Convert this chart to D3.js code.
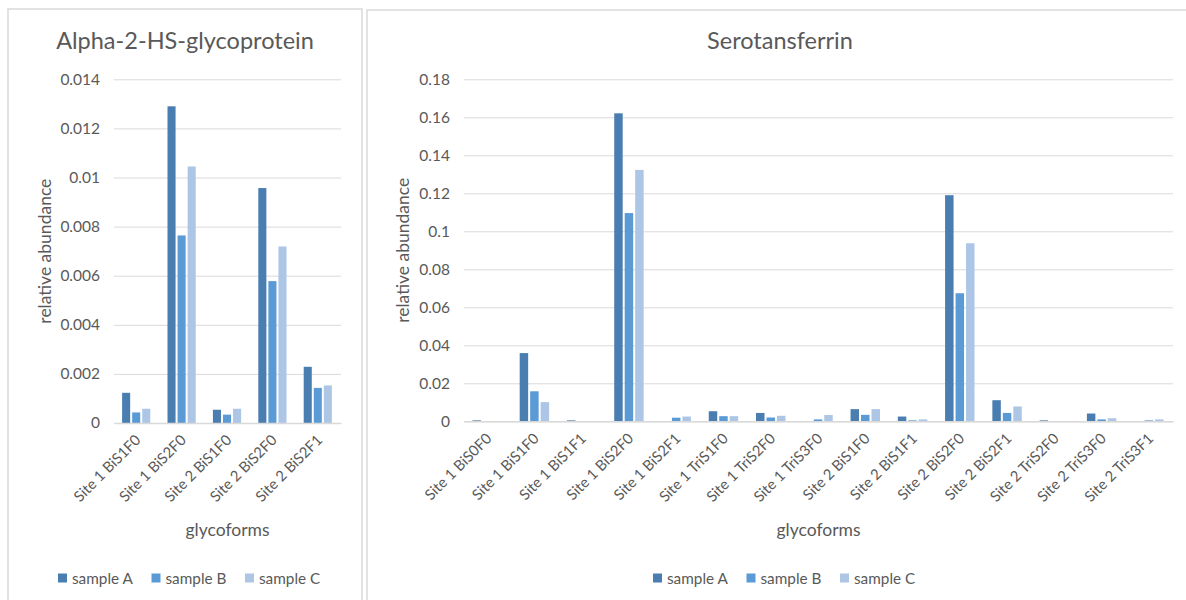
<!DOCTYPE html>
<html><head><meta charset="utf-8">
<script src="https://cdn.jsdelivr.net/npm/d3@7"></script>
<style>
html,body{margin:0;padding:0;background:#fff;}
svg{display:block;font-family:Lato,"Open Sans",sans-serif;}
</style></head>
<body>
<svg id="chart" width="1186" height="600"></svg>
<script>
const seriesNames = ["sample A", "sample B", "sample C"];
const seriesColors = ["#4a7eb1", "#5b9bd5", "#adc6e6"];

const ahsgCategories = ["Site 1 BiS1F0", "Site 1 BiS2F0", "Site 2 BiS1F0", "Site 2 BiS2F0", "Site 2 BiS2F1"];
const ahsgA = [0.00123, 0.0129, 0.00054, 0.00957, 0.00229];
const ahsgB = [0.00043, 0.00764, 0.00034, 0.00578, 0.00143];
const ahsgC = [0.00058, 0.01045, 0.00058, 0.00719, 0.00153];
const ahsgTicks = [0, 0.002, 0.004, 0.006, 0.008, 0.01, 0.012, 0.014];
const ahsgTickLabels = ["0", "0.002", "0.004", "0.006", "0.008", "0.01", "0.012", "0.014"];

const trfCategories = ["Site 1 BiS0F0", "Site 1 BiS1F0", "Site 1 BiS1F1", "Site 1 BiS2F0", "Site 1 BiS2F1",
  "Site 1 TriS1F0", "Site 1 TriS2F0", "Site 1 TriS3F0", "Site 2 BiS1F0", "Site 2 BiS1F1",
  "Site 2 BiS2F0", "Site 2 BiS2F1", "Site 2 TriS2F0", "Site 2 TriS3F0", "Site 2 TriS3F1"];
const trfA = [0.0005, 0.0359, 0.0005, 0.1621, 0, 0.0053, 0.0044, 0, 0.0064, 0.0025, 0.119, 0.0111, 0.0005, 0.0041, 0];
const trfB = [0, 0.0158, 0, 0.1096, 0.0019, 0.0027, 0.002, 0.001, 0.0034, 0.0005, 0.0674, 0.0044, 0, 0.001, 0.0005];
const trfC = [0, 0.0101, 0, 0.1323, 0.0025, 0.0027, 0.0029, 0.0033, 0.0064, 0.001, 0.0937, 0.0078, 0, 0.0016, 0.001];
const trfTicks = [0, 0.02, 0.04, 0.06, 0.08, 0.1, 0.12, 0.14, 0.16, 0.18];
const trfTickLabels = ["0", "0.02", "0.04", "0.06", "0.08", "0.1", "0.12", "0.14", "0.16", "0.18"];

const svg = d3.select("#chart");
const textColor = "#595959";
const gridColor = "#d9d9d9";

function drawPanel(cfg) {
  const g = svg.append("g");
  g.append("rect").attr("x", cfg.box[0]).attr("y", cfg.box[1])
    .attr("width", cfg.box[2]).attr("height", cfg.box[3])
    .attr("fill", "#fff").attr("stroke", gridColor).attr("stroke-width", 1.5);

  const x0 = d3.scaleBand().domain(cfg.categories).range([cfg.left, cfg.right]).padding(0);
  const groupW = x0.bandwidth() * 0.665;
  const x1 = d3.scaleBand().domain(seriesNames).range([0, groupW]).padding(0);
  const y = d3.scaleLinear().domain([0, cfg.ticks[cfg.ticks.length - 1]]).range([cfg.bottom, cfg.top]);

  const yAxis = d3.axisLeft(y).tickValues(cfg.ticks)
    .tickFormat((d, i) => cfg.tickLabels[i]).tickSize(-(cfg.right - cfg.left)).tickPadding(14);
  const ya = g.append("g").attr("transform", `translate(${cfg.left},0)`).call(yAxis);
  ya.select(".domain").remove();
  ya.selectAll(".tick line").attr("stroke", gridColor).attr("stroke-width", 1);
  ya.selectAll(".tick text").attr("fill", textColor).style("font-size", "15.5px")
    .style("font-family", "Lato, sans-serif");

  const series = [cfg.a, cfg.b, cfg.c];
  cfg.categories.forEach((cat, ci) => {
    const gx = x0(cat) + (x0.bandwidth() - groupW) / 2;
    series.forEach((vals, si) => {
      const v = vals[ci];
      if (!v) return;
      g.append("rect")
        .attr("x", gx + x1(seriesNames[si]) + 0.5)
        .attr("y", y(v))
        .attr("width", x1.bandwidth() - 2)
        .attr("height", y(0) - y(v))
        .attr("fill", seriesColors[si]);
    });
  });

  const xAxis = d3.axisBottom(x0).tickSize(0).tickPadding(0);
  const xa = g.append("g").attr("transform", `translate(0,${y(0)})`).call(xAxis);
  xa.select(".domain").attr("stroke", gridColor).attr("stroke-width", 1.5);
  xa.selectAll(".tick text")
    .attr("fill", textColor).style("font-size", "14.8px").style("font-family", "Lato, sans-serif")
    .attr("text-anchor", "end").attr("dy", null).attr("y", 0)
    .attr("transform", "translate(5,18) rotate(-45)");

  g.append("text").attr("x", cfg.titleX).attr("y", 49).attr("text-anchor", "middle")
    .attr("fill", textColor).style("font-size", "23.5px").text(cfg.title);
  g.append("text").attr("transform", `translate(${cfg.yTitleX},${(cfg.top + cfg.bottom) / 2}) rotate(-90)`)
    .attr("text-anchor", "middle").attr("fill", textColor).style("font-size", "17.5px")
    .text("relative abundance");
  g.append("text").attr("x", (cfg.left + cfg.right) / 2).attr("y", 536).attr("text-anchor", "middle")
    .attr("fill", textColor).style("font-size", "17.5px").text("glycoforms");

  const lg = g.append("g").attr("transform", `translate(${cfg.legendX},578)`);
  seriesNames.forEach((s, i) => {
    const item = lg.append("g").attr("transform", `translate(${i * 93.5},0)`);
    item.append("rect").attr("x", 0).attr("y", -4.5).attr("width", 9).attr("height", 9).attr("fill", seriesColors[i]);
    item.append("text").attr("x", 14).attr("y", 5.5).attr("fill", textColor)
      .style("font-size", "15.3px").text(s);
  });
}

drawPanel({
  box: [8, 9, 354, 600], categories: ahsgCategories, a: ahsgA, b: ahsgB, c: ahsgC,
  ticks: ahsgTicks, tickLabels: ahsgTickLabels,
  left: 114, right: 341, top: 79.3, bottom: 423,
  title: "Alpha-2-HS-glycoprotein", titleX: 185, yTitleX: 51, legendX: 58
});
drawPanel({
  box: [367, 10, 830, 600], categories: trfCategories, a: trfA, b: trfB, c: trfC,
  ticks: trfTicks, tickLabels: trfTickLabels,
  left: 464, right: 1173, top: 79.3, bottom: 421.3,
  title: "Serotansferrin", titleX: 780, yTitleX: 409, legendX: 653
});
</script>
</body></html>
